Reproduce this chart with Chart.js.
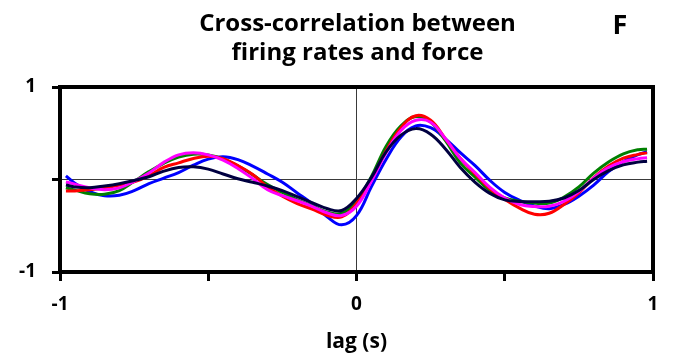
<!DOCTYPE html>
<html><head><meta charset="utf-8">
<script src="https://cdn.jsdelivr.net/npm/chart.js@4/dist/chart.umd.min.js"></script>
<style>html,body{margin:0;padding:0;background:#fff;overflow:hidden}canvas{display:block}</style>
</head><body>
<canvas id="c" width="677" height="362"></canvas>
<script>
const lags = [-0.98,-0.95,-0.9,-0.85,-0.8,-0.75,-0.7,-0.65,-0.6,-0.55,-0.5,-0.45,-0.4,-0.35,-0.3,-0.25,-0.2,-0.15,-0.1,-0.05,0,0.05,0.1,0.15,0.2,0.25,0.3,0.35,0.4,0.45,0.5,0.55,0.6,0.65,0.7,0.75,0.8,0.85,0.9,0.95,0.98];
const seriesBlue = [0.04,-0.04,-0.13,-0.175,-0.17,-0.12,-0.045,0.015,0.075,0.155,0.22,0.245,0.215,0.145,0.06,-0.03,-0.145,-0.26,-0.40,-0.49,-0.39,-0.08,0.22,0.46,0.58,0.56,0.44,0.29,0.15,-0.01,-0.14,-0.225,-0.285,-0.315,-0.27,-0.18,-0.06,0.085,0.195,0.27,0.3];
const seriesGreen = [-0.09,-0.115,-0.155,-0.16,-0.12,-0.02,0.085,0.175,0.242,0.274,0.266,0.222,0.148,0.05,-0.055,-0.14,-0.22,-0.285,-0.35,-0.365,-0.23,0.03,0.36,0.58,0.68,0.62,0.42,0.18,0.025,-0.12,-0.2,-0.235,-0.255,-0.255,-0.19,-0.08,0.07,0.19,0.278,0.322,0.328];
const seriesRed = [-0.123,-0.123,-0.112,-0.09,-0.06,-0.025,0.04,0.13,0.18,0.227,0.25,0.225,0.15,0.055,-0.08,-0.18,-0.26,-0.32,-0.386,-0.405,-0.26,0.0,0.31,0.56,0.69,0.64,0.44,0.23,0.06,-0.1,-0.215,-0.31,-0.375,-0.365,-0.27,-0.145,0.02,0.145,0.23,0.272,0.288];
const seriesMagenta = [-0.027,-0.05,-0.09,-0.11,-0.09,-0.02,0.07,0.185,0.266,0.288,0.266,0.21,0.12,0.01,-0.11,-0.175,-0.23,-0.29,-0.36,-0.39,-0.29,-0.02,0.29,0.53,0.64,0.62,0.44,0.23,0.075,-0.085,-0.2,-0.27,-0.292,-0.29,-0.235,-0.13,0.015,0.13,0.192,0.225,0.234];
const seriesNavy = [-0.06,-0.08,-0.088,-0.07,-0.045,-0.01,0.03,0.09,0.13,0.137,0.112,0.06,0.008,-0.03,-0.07,-0.12,-0.185,-0.25,-0.314,-0.335,-0.205,0.02,0.3,0.48,0.55,0.49,0.33,0.13,-0.03,-0.15,-0.22,-0.238,-0.24,-0.235,-0.2,-0.12,0.0,0.095,0.158,0.188,0.198];
const xTickValues = [-1,-0.5,0,0.5,1];
const xTickLabels = ['-1','','0','','1'];
const yTickValues = [-1,0,1];
const yTickLabels = ['-1','','1'];
const titleLines = ['Cross-correlation between','firing rates and force'];
const panelLabel = 'F';
const xAxisTitle = 'lag (s)';

const FONT = '"Open Sans"';
function pts(ys){ return lags.map((x,i)=>({x:x,y:ys[i]})); }
function ds(ys,color,order){ return {data:pts(ys),borderColor:color,backgroundColor:color,borderWidth:3,pointRadius:0,tension:0.4,fill:false,order:order}; }

const gridColor = c => (c.tick && c.tick.value === 0) ? '#3a3a3a' : 'rgba(0,0,0,0)';

const decor = {
  id:'decor',
  afterDatasetsDraw(chart){
    const {ctx, chartArea:a} = chart;
    ctx.save();
    ctx.strokeStyle = '#000'; ctx.lineWidth = 4; ctx.lineCap = 'square';
    ctx.beginPath();
    ctx.moveTo(a.left, a.top); ctx.lineTo(a.right, a.top); ctx.lineTo(a.right, a.bottom);
    ctx.stroke();
    ctx.restore();
  },
  afterDraw(chart){
    const {ctx, chartArea:a} = chart;
    ctx.save();
    ctx.fillStyle = '#000';
    ctx.textAlign = 'center'; ctx.textBaseline = 'alphabetic';
    ctx.font = 'bold 24px ' + FONT;
    const cx = (a.left + a.right)/2 + 1;
    ctx.fillText(titleLines[0], cx, 31);
    ctx.fillText(titleLines[1], cx, 60);
    ctx.font = 'bold 27px ' + FONT;
    ctx.fillText(panelLabel, 620, 34);
    ctx.restore();
  }
};

new Chart(document.getElementById('c'), {
  type:'line',
  data:{ datasets:[
    ds(seriesNavy,'#000040',0),
    ds(seriesMagenta,'#FF00FF',1),
    ds(seriesRed,'#FF0000',2),
    ds(seriesGreen,'#008000',3),
    ds(seriesBlue,'#0000FF',4)
  ]},
  options:{
    responsive:false, animation:false, devicePixelRatio:1,
    layout:{padding:{left:0,right:24,top:87,bottom:7}},
    plugins:{legend:{display:false},tooltip:{enabled:false},title:{display:false}},
    scales:{
      x:{type:'linear',min:-1,max:1,
        afterBuildTicks:s=>{s.ticks = xTickValues.map(v=>({value:v}));},
        afterFit:s=>{s.height = 83;},
        ticks:{callback:(v)=>xTickLabels[xTickValues.indexOf(v)], color:'#000', font:{family:FONT,weight:'bold',size:19}, padding:12, maxRotation:0, autoSkip:false},
        grid:{color:gridColor, lineWidth:1, drawTicks:true, tickLength:9, tickColor:'#000', tickWidth:3},
        border:{display:true,color:'#000',width:4},
        title:{display:true,text:xAxisTitle,color:'#000',font:{family:FONT,weight:'bold',size:21},padding:0}
      },
      y:{min:-1,max:1,
        afterBuildTicks:s=>{s.ticks = yTickValues.map(v=>({value:v}));},
        afterFit:s=>{s.width = 60;},
        ticks:{callback:(v)=>yTickLabels[yTickValues.indexOf(v)], color:'#000', font:{family:FONT,weight:'bold',size:19}, padding:16},
        grid:{color:gridColor, lineWidth:1, drawTicks:true, tickLength:8, tickColor:'#000', tickWidth:3},
        border:{display:true,color:'#000',width:4}
      }
    }
  },
  plugins:[decor]
});
</script>
</body></html>
